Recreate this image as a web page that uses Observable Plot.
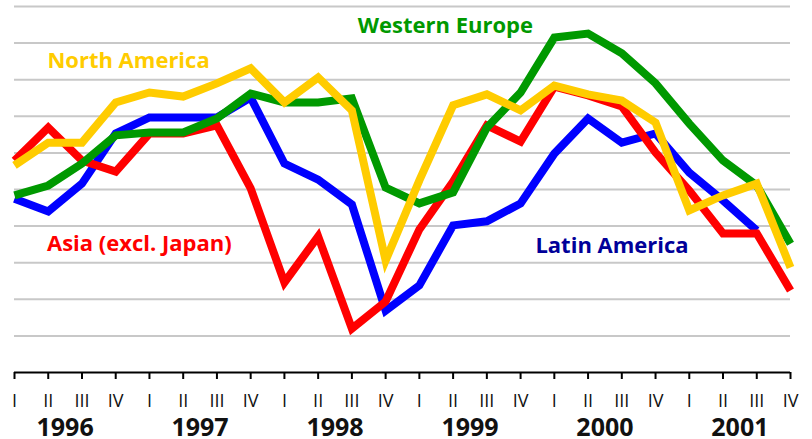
<!DOCTYPE html>
<html>
<head>
<meta charset="utf-8">
<script src="https://cdn.jsdelivr.net/npm/d3@7"></script>
<script src="https://cdn.jsdelivr.net/npm/@observablehq/plot@0.6"></script>
<style>
  html, body { margin: 0; padding: 0; background: #fff; }
  #chart svg { display: block; }
</style>
</head>
<body>
<div id="chart"></div>
<script>
const years = ["1996", "1997", "1998", "1999", "2000", "2001"];
const quarterNames = ["I", "II", "III", "IV"];
const seriesNames = ["Latin America", "Asia (excl. Japan)", "Western Europe", "North America"];

const latinAmerica = [4.75, 4.40, 5.16, 6.53, 6.97, 6.97, 6.97, 7.51, 5.71, 5.27, 4.59, 1.69,
                      2.38, 4.02, 4.13, 4.62, 5.98, 6.94, 6.28, 6.53, 5.46, 4.70, 3.88];
const asia = [5.79, 6.69, 5.79, 5.49, 6.53, 6.53, 6.75, 5.03, 2.46, 3.72, 1.20, 1.94,
              3.91, 5.22, 6.75, 6.31, 7.81, 7.57, 7.27, 6.01, 4.97, 3.80, 3.80, 2.24];
const westernEurope = [4.84, 5.11, 5.71, 6.48, 6.56, 6.56, 6.94, 7.62, 7.38, 7.38, 7.49, 5.05,
                       4.62, 4.92, 6.69, 7.65, 9.15, 9.26, 8.72, 7.90, 6.80, 5.79, 5.11, 3.52];
const northAmerica = [5.66, 6.28, 6.28, 7.38, 7.65, 7.54, 7.90, 8.31, 7.38, 8.06, 7.16, 3.06,
                      5.25, 7.30, 7.60, 7.16, 7.84, 7.60, 7.43, 6.83, 4.43, 4.84, 5.16, 2.87];
const gridValues = [1, 2, 3, 4, 5, 6, 7, 8, 9, 10];

const lineColors = ["#0000ff", "#ff0000", "#009900", "#ffcc00"];
const labelColors = ["#000099", "#ff0000", "#009900", "#ffcc00"];

const allSeries = [latinAmerica, asia, westernEurope, northAmerica];
const quarterIdx = d3.range(years.length * quarterNames.length);

function rows(values) {
  return values.map((v, i) => ({i, v}));
}

const lineOpts = {x: "i", y: "v", strokeWidth: 8, strokeLinejoin: "miter", strokeMiterlimit: 4, strokeLinecap: "butt"};
const labelFont = {fontFamily: "'Open Sans', sans-serif", fontWeight: "bold", fontSize: 22, textAnchor: "middle", lineAnchor: "middle"};

const chart = Plot.plot({
  width: 812,
  height: 439,
  marginTop: 6,
  marginBottom: 67,
  marginLeft: 14,
  marginRight: 22,
  style: {background: "#fff", overflow: "visible"},
  x: {domain: [0, quarterIdx.length - 1], axis: null, label: null},
  y: {domain: [0, 10], axis: null, label: null},
  marks: [
    Plot.ruleY(gridValues, {stroke: "#c8c8c8", strokeWidth: 2}),
    Plot.ruleY([0], {stroke: "#000", strokeWidth: 2}),
    Plot.axisX(quarterIdx, {tickSize: 7, fill: "none", stroke: "#000", strokeWidth: 2, strokeOpacity: 1, label: null}),
    Plot.text(quarterIdx, {
      x: d => d, text: d => quarterNames[d % 4], frameAnchor: "bottom", lineAnchor: "middle", dy: 29,
      fontFamily: "'Open Sans', sans-serif", fontSize: 18, fill: "#111"
    }),
    Plot.text(years, {
      x: (d, k) => 4 * k + 1.5, text: d => d, frameAnchor: "bottom", lineAnchor: "middle", dy: 55,
      fontFamily: "'Open Sans', sans-serif", fontWeight: "bold", fontSize: 25, fill: "#111"
    }),
    ...allSeries.map((vals, s) => Plot.line(rows(vals), {...lineOpts, stroke: lineColors[s]})),
    Plot.text([seriesNames[2]], {x: 12.77, y: 9.48, text: d => d, fill: labelColors[2], ...labelFont}),
    Plot.text([seriesNames[3]], {x: 3.38, y: 8.52, text: d => d, fill: labelColors[3], ...labelFont}),
    Plot.text([seriesNames[1]], {x: 3.70, y: 3.51, text: d => d, fill: labelColors[1], ...labelFont}),
    Plot.text([seriesNames[0]], {x: 17.71, y: 3.46, text: d => d, fill: labelColors[0], ...labelFont})
  ]
});
document.getElementById("chart").appendChild(chart);
</script>
</body>
</html>
